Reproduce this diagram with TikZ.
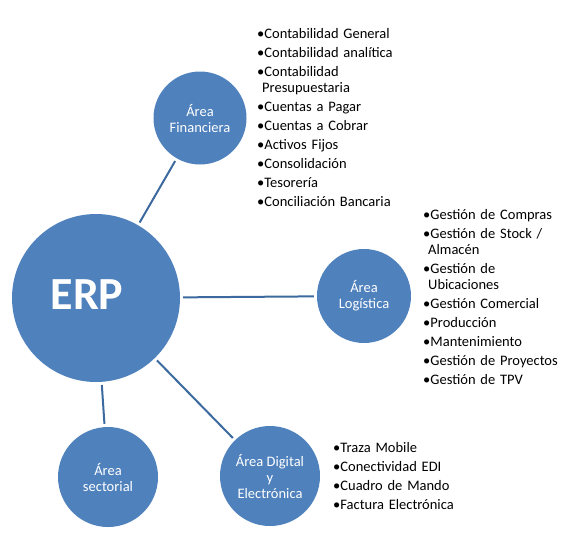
\documentclass[tikz,border=0pt]{standalone}
\usepackage{fontspec}
\setmainfont{Carlito}
\usepackage{xcolor}
\usepackage{tikz}
\usetikzlibrary{positioning}

\definecolor{erpblue}{HTML}{4F81BD}
\definecolor{erpline}{HTML}{3C6A9E}
\newcommand\bul[1]{\setlength{\parskip}{3pt}\hangindent=5pt\hangafter=1\noindent\textbullet#1\par}

\begin{document}
\begin{tikzpicture}[x=1pt, y=-1pt,
        area/.style={circle, fill=erpblue, text=white, align=center, inner sep=0pt,
            font=\fontsize{14.5}{16}\selectfont},
        link/.style={draw=erpline, line width=2pt, shorten <=3pt, shorten >=3pt},
        bullets/.style={anchor=north west, inner sep=0pt, text width=170pt, align=left,
            font=\fontsize{14.5}{16}\selectfont}]
        \useasboundingbox (0,0) rectangle (577,544);

        % Centre: ERP
        \node[area, minimum size=168pt] (erp) at (96, 298) {};
        \node[text=white, font=\fontsize{46}{46}\selectfont\bfseries] (erplabel) at (87, 295) {ERP};

        % Areas
        \node[area, minimum size=93pt] (fin) at (200, 118) {Área\\Financiera};
        \node[area, minimum size=94pt] (log) at (364, 296) {Área\\Logística};
        \node[area, minimum size=100pt] (sec) at (108, 477) {Área\\sectorial};
        \node[area, minimum size=100pt] (dig) at (270, 476) {Área Digital\\y\\Electrónica};

        % Links
        \draw[link] (erp) -- (fin);
        \draw[link] (erp) -- (log);
        \draw[link] (erp) -- (sec);
        \draw[link] (erp) -- (dig);

        % Lists
        \node[bullets] (finlist) at (257, 28) {%
            \bul{Contabilidad General}
            \bul{Contabilidad analítica}
            \bul{Contabilidad\newline Presupuestaria}
            \bul{Cuentas a Pagar}
            \bul{Cuentas a Cobrar}
            \bul{Activos Fijos}
            \bul{Consolidación}
            \bul{Tesorería}
            \bul{Conciliación Bancaria}};
        \node[bullets] (loglist) at (423, 209) {%
            \bul{Gestión de Compras}
            \bul{Gestión de Stock /\newline Almacén}
            \bul{Gestión de\newline Ubicaciones}
            \bul{Gestión Comercial}
            \bul{Producción}
            \bul{Mantenimiento}
            \bul{Gestión de Proyectos}
            \bul{Gestión de TPV}};
        \node[bullets] (diglist) at (333, 442) {%
            \bul{Traza Mobile}
            \bul{Conectividad EDI}
            \bul{Cuadro de Mando}
            \bul{Factura Electrónica}};
\end{tikzpicture}
\end{document}
